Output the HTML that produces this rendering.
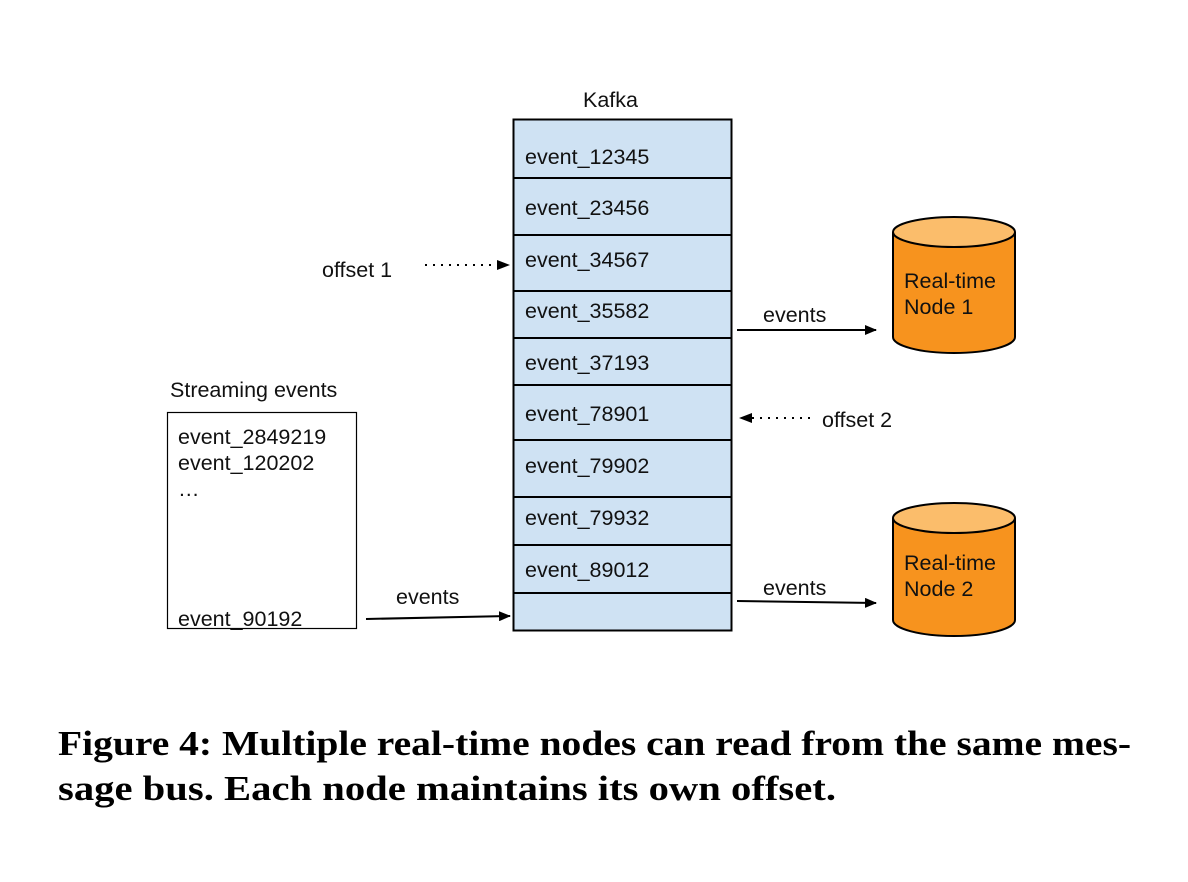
<!DOCTYPE html>
<html><head><meta charset="utf-8"><style>
html,body{margin:0;padding:0;background:#fff;}
svg{display:block;}
text{font-family:"Liberation Sans",sans-serif;font-size:21.5px;fill:#111;}
.cap{font-family:"Liberation Serif",serif;font-weight:bold;font-size:35px;fill:#000;}
</style></head><body>
<svg width="1188" height="882" viewBox="0 0 1188 882" xmlns="http://www.w3.org/2000/svg">
<defs>
<marker id="ah" markerWidth="12" markerHeight="10" refX="11" refY="5" orient="auto" markerUnits="userSpaceOnUse">
<path d="M0,0 L12,5 L0,10 Z" fill="#000"/></marker>
</defs>
<text x="583" y="107">Kafka</text>
<rect x="513.5" y="119.5" width="218" height="511" fill="#cfe2f3" stroke="#000" stroke-width="2"/>
<g stroke="#000" stroke-width="2">
<line x1="513" y1="178" x2="732" y2="178"/>
<line x1="513" y1="235" x2="732" y2="235"/>
<line x1="513" y1="291" x2="732" y2="291"/>
<line x1="513" y1="338" x2="732" y2="338"/>
<line x1="513" y1="385" x2="732" y2="385"/>
<line x1="513" y1="440" x2="732" y2="440"/>
<line x1="513" y1="497" x2="732" y2="497"/>
<line x1="513" y1="545" x2="732" y2="545"/>
<line x1="513" y1="593" x2="732" y2="593"/>
</g>
<text x="525" y="164">event_12345</text>
<text x="525" y="215">event_23456</text>
<text x="525" y="267">event_34567</text>
<text x="525" y="318">event_35582</text>
<text x="525" y="370">event_37193</text>
<text x="525" y="421">event_78901</text>
<text x="525" y="473">event_79902</text>
<text x="525" y="525">event_79932</text>
<text x="525" y="577">event_89012</text>

<text x="322" y="277">offset 1</text>
<line x1="425" y1="265" x2="498" y2="265" stroke="#000" stroke-width="2" stroke-dasharray="2,6"/>
<path d="M497,260 L510,265 L497,270 Z" fill="#000"/>

<text x="822" y="427">offset 2</text>
<line x1="752" y1="418" x2="815" y2="418" stroke="#000" stroke-width="2" stroke-dasharray="2,6"/>
<path d="M752,413 L739,418 L752,423 Z" fill="#000"/>

<text x="763" y="322">events</text>
<line x1="737" y1="330" x2="876" y2="330" stroke="#000" stroke-width="2" marker-end="url(#ah)"/>
<text x="763" y="595">events</text>
<line x1="737" y1="601" x2="876" y2="603" stroke="#000" stroke-width="2" marker-end="url(#ah)"/>

<path d="M893,232 L893,337 A61,16 0 0 0 1015,337 L1015,232" fill="#f7931e" stroke="#000" stroke-width="2"/>
<ellipse cx="954" cy="232" rx="61" ry="15" fill="#fbbd6b" stroke="#000" stroke-width="2"/>
<text x="904" y="288">Real-time</text>
<text x="904" y="314">Node 1</text>
<path d="M893,518 L893,620 A61,16 0 0 0 1015,620 L1015,518" fill="#f7931e" stroke="#000" stroke-width="2"/>
<ellipse cx="954" cy="518" rx="61" ry="15" fill="#fbbd6b" stroke="#000" stroke-width="2"/>
<text x="904" y="570">Real-time</text>
<text x="904" y="596">Node 2</text>

<text x="170" y="397">Streaming events</text>
<rect x="167.5" y="412.5" width="189" height="216" fill="#fff" stroke="#000" stroke-width="1.2"/>
<text x="178" y="444">event_2849219</text>
<text x="178" y="470">event_120202</text>
<text x="178" y="496">…</text>
<text x="178" y="626">event_90192</text>
<text x="396" y="604">events</text>
<line x1="366" y1="619" x2="510" y2="616" stroke="#000" stroke-width="2" marker-end="url(#ah)"/>

<text class="cap" x="58" y="755" textLength="1073" lengthAdjust="spacingAndGlyphs">Figure 4: Multiple real-time nodes can read from the same mes-</text>
<text class="cap" x="58" y="800" textLength="778" lengthAdjust="spacingAndGlyphs">sage bus. Each node maintains its own offset.</text>
</svg>
</body></html>
